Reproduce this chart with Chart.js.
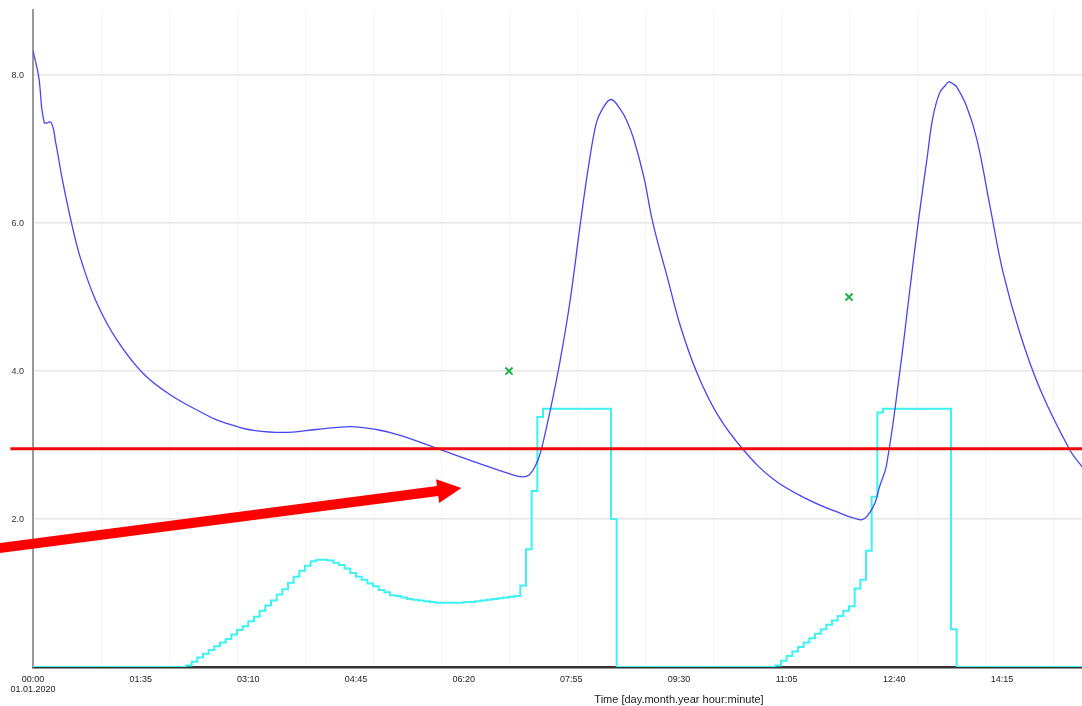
<!DOCTYPE html>
<html>
<head>
<meta charset="utf-8">
<title>Verlauf</title>
<script src="https://cdn.jsdelivr.net/npm/chart.js@4.4.0/dist/chart.umd.min.js"></script>
<style>
  html, body { margin: 0; padding: 0; background: #fff; overflow: hidden; }
  #wrap { width: 1082px; height: 706px; overflow: hidden; }
  /* the plot is wider than the window, the right part is cut off like in the picture */
  #inner { width: 1325px; height: 706px; }
</style>
</head>
<body>
<div id="wrap"><div id="inner"><canvas id="myChart"></canvas></div></div>
<script>
// x values are minutes after 01.01.2020 00:00
const blueMinutes = [0, 5, 10, 16, 20, 26, 34, 42, 56, 74, 97, 121, 150, 162, 180, 194, 221, 250, 280, 303, 324, 359, 394, 421, 432, 438, 443, 447, 450, 456, 465, 474, 483, 490, 497, 502, 510, 519, 524, 530, 539, 547, 560, 571, 586, 604, 626, 653, 683, 712, 730, 734, 738, 743, 747, 753, 765, 774, 781, 789, 794, 800, 805, 808, 812, 815, 824, 833, 845, 856, 871, 889, 915, 926];
const blueValues = [8.33, 7.98, 7.36, 7.36, 7.09, 6.58, 6.00, 5.52, 4.93, 4.42, 3.97, 3.68, 3.43, 3.34, 3.25, 3.20, 3.17, 3.21, 3.25, 3.21, 3.13, 2.94, 2.75, 2.61, 2.57, 2.60, 2.71, 2.86, 3.03, 3.44, 4.13, 4.96, 6.00, 6.75, 7.35, 7.53, 7.67, 7.52, 7.38, 7.14, 6.62, 6.00, 5.25, 4.62, 3.97, 3.41, 2.95, 2.54, 2.27, 2.08, 1.99, 2.01, 2.08, 2.22, 2.44, 2.72, 4.01, 5.14, 6.00, 6.89, 7.43, 7.76, 7.86, 7.91, 7.88, 7.84, 7.57, 7.12, 6.18, 5.33, 4.50, 3.74, 2.93, 2.70];

const cyanMinutes = [0,
  135, 140, 145, 150, 155, 160, 165, 170, 175, 180, 185, 190, 195, 200, 205, 210,
  215, 220, 225, 230, 235, 240, 245, 250, 255, 260, 265, 270, 275, 280, 285, 290,
  295, 300, 305, 310, 315, 320, 325, 330, 335, 340, 345, 350, 355, 360, 365, 370,
  375, 380, 385, 390, 395, 400, 405, 410, 415, 420, 425, 430, 435, 440, 445, 450,
  510, 515,
  655, 660, 665, 670, 675, 680, 685, 690, 695, 700, 705, 710, 715, 720, 725, 730,
  735, 740, 745, 750,
  810, 815, 926];
const cyanValues = [0,
  0.02, 0.07, 0.13, 0.18, 0.23, 0.28, 0.33, 0.38, 0.44, 0.50, 0.55, 0.62, 0.68, 0.76, 0.83, 0.90,
  0.98, 1.05, 1.14, 1.22, 1.30, 1.37, 1.43, 1.45, 1.45, 1.44, 1.41, 1.38, 1.33, 1.27, 1.22, 1.18,
  1.13, 1.09, 1.04, 1.01, 0.97, 0.96, 0.94, 0.92, 0.91, 0.90, 0.89, 0.88, 0.87, 0.87, 0.87, 0.87,
  0.87, 0.88, 0.88, 0.89, 0.90, 0.91, 0.92, 0.93, 0.94, 0.95, 0.96, 1.10, 1.59, 2.38, 3.38, 3.49,
  2.00, 0,
  0.02, 0.085, 0.15, 0.21, 0.27, 0.33, 0.39, 0.45, 0.51, 0.57, 0.63, 0.69, 0.76, 0.82, 1.06, 1.18,
  1.57, 2.30, 3.44, 3.49,
  0.51, 0, 0];

const markerMinutes = [420, 720];
const markerValues = [4.0, 5.0];

const limitValue = 2.95;
const limitFrom = -20; // the red line starts a bit left of the axis

const arrowFrom = [-40, 1.586];
const arrowTo = [378, 2.42];

const tickMinutes = [0, 95, 190, 285, 380, 475, 570, 665, 760, 855];
const tickLabels = ["00:00", "01:35", "03:10", "04:45", "06:20", "07:55", "09:30", "11:05", "12:40", "14:15"];
const dateLabel = "01.01.2020";
const yTicks = [0, 2, 4, 6, 8];

const xMax = 1140;
const yMax = 8.88;

const toPoints = (xs, ys) => xs.map((x, i) => ({ x: x, y: ys[i] }));

// hourly grid lines plus the labelled ticks
const hourTicks = [];
for (let m = 0; m <= xMax; m += 60) hourTicks.push(m);
const allXTicks = Array.from(new Set(hourTicks.concat(tickMinutes))).sort((a, b) => a - b);

const extras = {
  id: "extras",
  afterDatasetsDraw(chart) {
    const { ctx, chartArea, scales } = chart;
    const x = scales.x, y = scales.y;

    // limit line
    const ly = y.getPixelForValue(limitValue);
    ctx.save();
    ctx.strokeStyle = "#f00a0a";
    ctx.lineWidth = 3;
    ctx.beginPath();
    ctx.moveTo(x.getPixelForValue(limitFrom), ly);
    ctx.lineTo(chartArea.right, ly);
    ctx.stroke();

    // arrow
    const x0 = x.getPixelForValue(arrowFrom[0]), y0 = y.getPixelForValue(arrowFrom[1]);
    const x1 = x.getPixelForValue(arrowTo[0]), y1 = y.getPixelForValue(arrowTo[1]);
    const len = Math.hypot(x1 - x0, y1 - y0);
    const ux = (x1 - x0) / len, uy = (y1 - y0) / len;
    const headLen = 24, headHalf = 12;
    const bx = x1 - ux * headLen, by = y1 - uy * headLen;
    ctx.strokeStyle = "#ff0000";
    ctx.fillStyle = "#ff0000";
    ctx.lineWidth = 10;
    ctx.beginPath();
    ctx.moveTo(x0, y0);
    ctx.lineTo(bx + ux * 2, by + uy * 2);
    ctx.stroke();
    ctx.beginPath();
    ctx.moveTo(x1, y1);
    ctx.lineTo(bx - uy * headHalf, by + ux * headHalf);
    ctx.lineTo(bx + uy * headHalf, by - ux * headHalf);
    ctx.closePath();
    ctx.fill();
    ctx.restore();
  }
};

Chart.defaults.font.family = '"Liberation Sans", Arial, sans-serif';

const ctx = document.getElementById("myChart");

new Chart(ctx, {
  type: "line",
  data: {
    datasets: [
      {
        label: "Sollwert",
        type: "scatter",
        data: toPoints(markerMinutes, markerValues),
        pointStyle: "crossRot",
        pointRadius: 5,
        pointBorderWidth: 2,
        borderColor: "#1fb04a",
        backgroundColor: "#1fb04a",
        showLine: false,
      },
      {
        label: "Verlauf",
        data: toPoints(blueMinutes, blueValues),
        borderColor: "#4646f2",
        borderWidth: 1.3,
        pointRadius: 0,
        tension: 0.4,
        fill: false,
      },
      {
        label: "Stufen",
        data: toPoints(cyanMinutes, cyanValues),
        borderColor: "#3cf2f2",
        borderWidth: 2,
        pointRadius: 0,
        stepped: true,
        fill: false,
      },
    ],
  },
  plugins: [extras],
  options: {
    responsive: true,
    maintainAspectRatio: false,
    animation: false,
    events: [],
    layout: { autoPadding: false, padding: { top: 10, right: 0, left: 0, bottom: 0 } },
    plugins: {
      legend: { display: false },
      tooltip: { enabled: false },
    },
    scales: {
      x: {
        type: "linear",
        min: 0,
        max: xMax,
        afterBuildTicks: (axis) => {
          axis.ticks = allXTicks.map((v) => ({ value: v }));
        },
        afterFit: (axis) => {
          axis.height = 39;
        },
        ticks: {
          autoSkip: false,
          maxRotation: 0,
          padding: 0,
          color: "#222",
          font: { size: 9, lineHeight: 1.15 },
          callback: (value) => {
            const i = tickMinutes.indexOf(value);
            if (i === 0) return [tickLabels[0], dateLabel];
            return i > 0 ? tickLabels[i] : "";
          },
        },
        grid: {
          drawTicks: true,
          tickLength: 7,
          tickColor: "rgba(0,0,0,0)",
          lineWidth: 1,
          color: (c) => (c.tick && c.tick.value % 60 === 0 ? "#f5f5f5" : "rgba(0,0,0,0)"),
        },
        border: { color: "#333", width: 2.5 },
        title: {
          display: true,
          text: "Time [day.month.year hour:minute]",
          color: "#222",
          font: { size: 11, lineHeight: 1.1 },
          padding: { top: 0, bottom: 0 },
        },
      },
      y: {
        type: "linear",
        min: 0,
        max: yMax,
        afterBuildTicks: (axis) => {
          axis.ticks = yTicks.map((v) => ({ value: v }));
        },
        afterFit: (axis) => {
          axis.width = 33;
        },
        ticks: {
          padding: 0,
          color: "#333",
          font: { size: 9 },
          callback: (value) => (value === 0 ? "" : value.toFixed(1)),
        },
        grid: {
          drawTicks: true,
          tickLength: 9,
          tickColor: "rgba(0,0,0,0)",
          color: "#e6e6e6",
          lineWidth: 1.5,
        },
        border: { color: "#999", width: 2 },
      },
    },
  },
});
</script>
</body>
</html>
